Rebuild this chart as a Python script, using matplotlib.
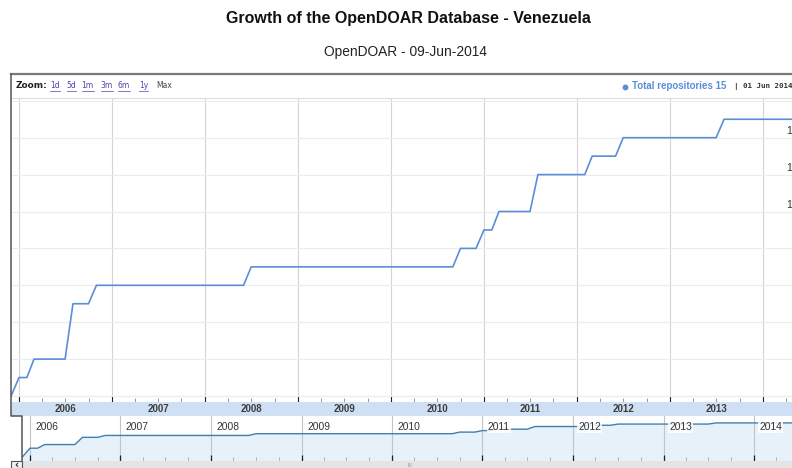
import pandas as pd
import numpy as np
import matplotlib
matplotlib.use("Agg")
from matplotlib import pyplot as plt
from matplotlib import transforms as mtransforms
from matplotlib.lines import Line2D
from matplotlib.patches import Rectangle

# repository totals (month where the total changed)
change_months = ["2005-12", "2006-01", "2006-03", "2006-08", "2006-11", "2008-07",
                 "2010-10", "2011-01", "2011-03", "2011-08", "2012-03", "2012-07",
                 "2013-08"]
totals = [0, 1, 2, 5, 6, 7, 8, 9, 10, 12, 13, 14, 15]
last_month = "2014-06"

y_ticks = [0, 2, 4, 6, 8, 10, 12, 14, 16]
years = [2006, 2007, 2008, 2009, 2010, 2011, 2012, 2013, 2014]
zoom_links = ["1d", "5d", "1m", "3m", "6m", "1y"]

title = "Growth of the OpenDOAR Database - Venezuela"
subtitle = "OpenDOAR - 09-Jun-2014"
legend_name = "Total repositories 15"
legend_date = "| 01 Jun 2014"

# monthly points (total stays the same until the next addition)
months = pd.date_range(change_months[0] + "-01", last_month + "-01", freq="MS")
series = pd.Series(totals, index=pd.to_datetime(change_months)).reindex(months).ffill()

W, H = 792, 468
LINE = "#5a8ed8"
NAV_LINE = "#3f7fb0"


def fbox(x0, y0, x1, y1):
    return [x0 / W, 1 - y1 / H, (x1 - x0) / W, (y1 - y0) / H]


def fx(x):
    return x / W


def fy(y):
    return 1 - y / H


def px_date(origin_px, px_per_year, x):
    days = (x - origin_px) / px_per_year * 365.25
    return pd.Timestamp("2006-01-01") + pd.Timedelta(days=days)


year_starts = [pd.Timestamp(f"{y}-01-01") for y in years]
quarters = [pd.Timestamp(f"{y}-{m:02d}-01") for y in range(2005, 2015) for m in (4, 7, 10)]

fig = plt.figure(figsize=(7.92, 4.68), dpi=100)
fig.patch.set_facecolor("white")

fig.text(fx(408), fy(18), title, ha="center", va="center", fontsize=11.5,
         fontweight="bold", family="Liberation Sans", color="#111111")
fig.text(fx(405), fy(52), subtitle, ha="center", va="center", fontsize=9.9,
         family="Liberation Sans", color="#222222")

# ---- main chart ----
main_left, main_right = 11, 815
ax = fig.add_axes(fbox(main_left, 98, main_right, 401.5))
ax.plot(series.index, series.values, color=LINE, lw=1.2, zorder=3)
ax.set_yticks(y_ticks)
ax.set_xticks(year_starts)
ax.set_xticks(quarters, minor=True)
ax.set_xlim(px_date(19, 93, main_left), px_date(19, 93, main_right))
ax.set_ylim(-5.5 / 18.45, (396 - 98) / 18.45)
ax.grid(axis="x", which="major", color="#d4d4d4", lw=0.8)
ax.grid(axis="y", color="#ececec", lw=0.8)
ax.tick_params(axis="x", which="major", direction="in", length=4, width=0.8,
               color="#222222", labelbottom=False)
ax.tick_params(axis="x", which="minor", direction="in", length=3, width=0.6,
               color="#888888")
ax.tick_params(axis="y", length=0, labelleft=False)
for s in ax.spines.values():
    s.set_visible(False)

# value labels sit at the right edge, mostly cut off as in the screenshot
lab_x = (798 - main_left) / (main_right - main_left)
trans = mtransforms.blended_transform_factory(ax.transAxes, ax.transData)
for v in y_ticks[:-1]:
    ax.text(lab_x, v + 0.2, str(v), transform=trans, ha="right", va="baseline",
            fontsize=7.5, family="Liberation Sans", color="#333333", clip_on=False)

# year band under main chart
band = fig.add_axes(fbox(main_left, 401.5, main_right, 415.5))
band.set_xlim(ax.get_xlim())
band.set_ylim(0, 1)
band.set_facecolor("#cfe0f5")
band.set_xticks([])
band.set_yticks([])
for s in band.spines.values():
    s.set_visible(False)
for y in years:
    band.text(pd.Timestamp(f"{y}-07-02"), 0.45, str(y), ha="center", va="center",
              fontsize=7, fontweight="bold", family="Liberation Sans", color="#3c3c3c")

# ---- navigator ----
nav_left, nav_right = 22, 792
nav = fig.add_axes(fbox(nav_left, 415.5, nav_right, 461))
nav.set_yscale("function", functions=(lambda v: np.sign(v) * np.sqrt(np.abs(v)),
                                      lambda u: np.sign(u) * u ** 2))
nav_bottom = -(4 / 8.8) ** 2
nav.set_facecolor("white")
nav.fill_between(series.index, series.values, nav_bottom, color="#e6f1fa", lw=0, zorder=1)
nav.plot(series.index, series.values, color=NAV_LINE, lw=1.0, zorder=3)
nav.set_xticks(year_starts)
nav.set_xticks(quarters, minor=True)
nav.set_yticks([])
nav.yaxis.set_minor_locator(matplotlib.ticker.NullLocator())
nav.set_xlim(px_date(30, 90.5, nav_left), px_date(30, 90.5, nav_right))
nav.set_ylim(nav_bottom, (41.5 / 8.8) ** 2)
nav.grid(axis="x", which="major", color="#c4c4c4", lw=0.8)
nav.tick_params(axis="x", which="major", direction="in", length=4, width=0.9,
                color="#222222", labelbottom=False)
nav.tick_params(axis="x", which="minor", direction="in", length=3, width=0.6,
                color="#aaaaaa")
nav.tick_params(axis="y", which="both", length=0, labelleft=False)
for s in nav.spines.values():
    s.set_visible(False)
ntrans = mtransforms.blended_transform_factory(nav.transData, nav.transAxes)
for y in years:
    nav.text(pd.Timestamp(f"{y}-01-01") + pd.Timedelta(days=22), (461 - 427) / 45.5, str(y),
             transform=ntrans, ha="left", va="center", fontsize=7.4,
             family="Liberation Sans", color="#333333", zorder=4,
             bbox=dict(boxstyle="square,pad=0.1", fc="white", ec="none", alpha=0.85))

# ---- frame, header and scrollbar ----
def fline(xs, ys, **kw):
    fig.add_artist(Line2D([fx(x) for x in xs], [fy(y) for y in ys],
                          transform=fig.transFigure, **kw))

fline([11, 792], [97.5, 97.5], color="#dddddd", lw=0.8)
fline([11, 792], [74, 74], color="#7a7a7a", lw=1.6)
fline([11, 11, 22, 22], [74, 415.5, 415.5, 461], color="#555555", lw=1.1)

fig.add_artist(Rectangle((fx(11), fy(468)), fx(781), 7 / H, transform=fig.transFigure,
                         fc="#e4e4e4", ec="none"))
fig.add_artist(Rectangle((fx(11), fy(468)), fx(11), 7 / H, transform=fig.transFigure,
                         fc="#f2f2f2", ec="#555555", lw=0.8))
fig.text(fx(16.5), fy(465), "\u2039", ha="center", va="center", fontsize=7,
         fontweight="bold", color="#222222")
fig.text(fx(410), fy(465.5), "III", ha="center", va="center", fontsize=4,
         color="#999999")

fig.text(fx(16), fy(86), "Zoom:", ha="left", va="center", fontsize=6.5,
         fontweight="bold", family="DejaVu Sans", color="#222222")
link_x = [50, 66.7, 81.7, 100.7, 118, 139]
renderer = fig.canvas.get_renderer()
for lx, name in zip(link_x, zoom_links):
    t = fig.text(fx(lx), fy(86), name, ha="left", va="center", fontsize=5.5,
                 family="DejaVu Sans", color="#4a44b4")
    bb = t.get_window_extent(renderer)
    fline([bb.x0, bb.x1], [H - bb.y0 + 0.5, H - bb.y0 + 0.5], color="#4a44b4", lw=0.5)
fig.text(fx(156.7), fy(86), "Max", ha="left", va="center", fontsize=5.5,
         family="DejaVu Sans", color="#444444")

fig.add_artist(Line2D([fx(625)], [fy(86.5)], marker="o", markersize=3.2, color=LINE,
                      lw=0, transform=fig.transFigure))
fig.text(fx(632.5), fy(86), legend_name, ha="left", va="center", fontsize=7,
         fontweight="bold", family="Liberation Sans", color=LINE)
fig.text(fx(733.5), fy(86.5), legend_date, ha="left", va="center", fontsize=5.4,
         fontweight="bold", family="DejaVu Sans Mono", color="#333333")

fig.savefig("out.png", dpi=100)
